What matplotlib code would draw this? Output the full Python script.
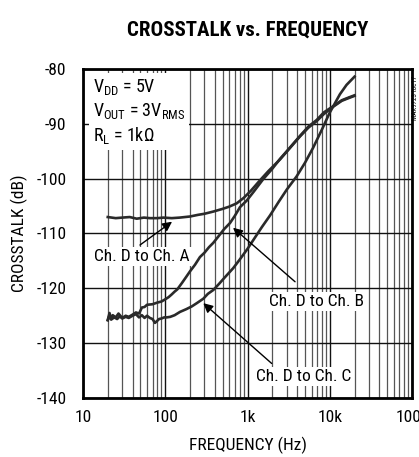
import matplotlib
matplotlib.use("Agg")
import matplotlib.pyplot as plt
from matplotlib.ticker import FixedLocator, NullFormatter, NullLocator

FONT = ['Roboto Condensed', 'DejaVu Sans']
plt.rcParams['font.family'] = FONT
plt.rcParams['mathtext.fontset'] = 'custom'
plt.rcParams['mathtext.rm'] = 'Roboto Condensed'
plt.rcParams['mathtext.it'] = 'Roboto Condensed'
plt.rcParams['axes.unicode_minus'] = False

# ---- data ----
freq_a = [20, 25, 30, 37, 45, 55, 65, 80, 95, 120, 150, 200, 250, 300, 384, 500,
          600, 739, 900, 1100, 1419, 1800, 2483, 3200, 4347, 5500, 6934, 8500,
          10960, 14000, 17000, 20000]
xt_a = [-107.0, -107.2, -107.1, -107.0, -107.3, -107.1, -107.2, -107.2, -107.1,
        -107.2, -107.1, -106.9, -106.6, -106.4, -106.0, -105.5, -105.1, -104.5,
        -103.5, -102.2, -100.3, -98.6, -96.5, -94.6, -92.3, -90.7, -89.5, -88.2,
        -86.9, -85.8, -85.3, -84.9]

freq_b = [20, 21, 22, 23, 25, 27, 30, 33, 36, 40, 44, 48, 52, 56, 60, 70, 80, 90,
          100, 110, 120, 130, 140, 160, 180, 200, 230, 264, 300, 340, 384, 450,
          520, 612, 700, 810, 978, 1200, 1550, 2000, 2483, 3000, 4347, 5500, 6934,
          8500, 10960, 14000, 17000, 20000]
xt_b = [-125.8, -124.5, -125.6, -124.9, -125.3, -124.6, -125.4, -125.0, -125.2,
        -124.8, -124.4, -124.6, -123.5, -123.4, -123.0, -122.9, -122.6, -122.4,
        -122.0, -121.6, -121.1, -120.6, -120.2, -119.0, -117.9, -116.9, -115.7,
        -114.3, -113.5, -112.5, -111.7, -110.4, -109.2, -108.1, -106.8, -105.2,
        -104.0, -102.3, -100.1, -98.2, -96.4, -95.0, -92.2, -90.5, -89.3, -87.9,
        -86.8, -85.7, -85.2, -84.8]

freq_c = [20, 21, 22, 24, 26, 28, 30, 33, 36, 40, 44, 48, 52, 56, 60, 65, 70, 75,
          79, 84, 90, 97, 104, 115, 130, 151, 180, 210, 242, 290, 330, 384, 450,
          530, 672, 800, 1000, 1200, 1500, 1880, 2400, 3000, 3950, 5000, 6260,
          8000, 9960, 13300, 16000, 20000]
xt_c = [-125.8, -124.9, -125.7, -125.3, -125.6, -125.1, -125.5, -125.2, -125.4,
        -125.0, -124.7, -125.3, -124.9, -125.4, -125.0, -125.4, -125.6, -126.3,
        -126.0, -125.6, -125.5, -125.3, -125.3, -125.2, -124.9, -124.3, -123.8,
        -123.3, -122.7, -121.9, -121.0, -120.3, -119.2, -118.0, -116.3, -114.8,
        -112.8, -111.0, -108.8, -106.7, -104.2, -102.0, -99.6, -97.1, -94.4,
        -91.1, -88.0, -84.6, -82.9, -81.4]

x_ticks = [10, 100, 1000, 10000, 100000]
x_ticklabels = ['10', '100', '1k', '10k', '100k']
y_ticks = [-140, -130, -120, -110, -100, -90, -80]

labels = ['Ch. D to Ch. A', 'Ch. D to Ch. B', 'Ch. D to Ch. C']
label_xy = [(52, -114.2), (6900, -122.4), (4800, -136.1)]
arrow_tail = [(49.3, -112.1), (3786, -118.8), (1968, -133.7)]
arrow_head = [(121, -107.85), (667, -108.95), (290, -122.7)]

# ---- figure ----
fig = plt.figure(figsize=(4.19, 4.57), dpi=100)
ax = fig.add_axes([83/419, 1-398/457, 329/419, 329/457])

ax.set_xscale('log')
ax.set_xlim(10, 100000)
ax.set_ylim(-140, -80)

minor = [m * 10**d for d in range(1, 5) for m in range(2, 10)]
ax.xaxis.set_major_locator(FixedLocator(x_ticks))
ax.xaxis.set_minor_locator(FixedLocator(minor))
ax.xaxis.set_minor_formatter(NullFormatter())
ax.set_xticklabels(x_ticklabels)
ax.set_yticks(y_ticks)
ax.yaxis.set_minor_locator(NullLocator())

ax.grid(True, which='major', axis='both', color='#111111', lw=1.0)
ax.grid(True, which='minor', axis='x', color='#555555', lw=0.9)
ax.set_axisbelow(True)

ax.tick_params(which='both', length=0)
ax.tick_params(axis='y', pad=12, labelsize=12.5)
ax.tick_params(axis='x', pad=9, labelsize=12.5)
for s in ax.spines.values():
    s.set_linewidth(2.0)
    s.set_color('black')

lc = '#2a2a2a'
ax.plot(freq_a, xt_a, color=lc, lw=1.9, zorder=3)
ax.plot(freq_b, xt_b, color=lc, lw=1.9, zorder=3)
ax.plot(freq_c, xt_c, color=lc, lw=1.9, zorder=3)

bb = dict(facecolor='white', edgecolor='none', pad=1.5)
ap = dict(arrowstyle='-|>', color='black', lw=1.0, mutation_scale=14,
          shrinkA=0, shrinkB=0)
for lab, (lx, ly), tail, head in zip(labels, label_xy, arrow_tail, arrow_head):
    ax.annotate('', xy=head, xytext=tail, arrowprops=ap, zorder=4)
    ax.text(lx, ly, lab, fontsize=12.5, ha='center', va='center',
            bbox=bb, zorder=5)

cond = (r'$\mathregular{V_{DD}}$ = 5V' + '\n' +
        r'$\mathregular{V_{OUT}}$ = 3$\mathregular{V_{RMS}}$' + '\n' +
        r'$\mathregular{R_{L}}$ = 1k$\mathregular{\Omega}$')
ax.text(0.03, 0.975, cond, transform=ax.transAxes, ha='left', va='top',
        fontsize=13, linespacing=1.25,
        bbox=dict(facecolor='white', edgecolor='none', pad=3), zorder=5)

ax.set_xlabel('FREQUENCY (Hz)', fontsize=12.5, labelpad=8)
ax.set_ylabel('CROSSTALK (dB)', fontsize=12.5, labelpad=6)
ax.set_title('CROSSTALK vs. FREQUENCY', fontsize=15, fontweight='heavy', pad=24)

fig.text(415/419, 1-98/457, 'MAX9723 toc17', rotation=90, fontsize=5,
         ha='center', va='center')

fig.savefig('out.png', dpi=100)
